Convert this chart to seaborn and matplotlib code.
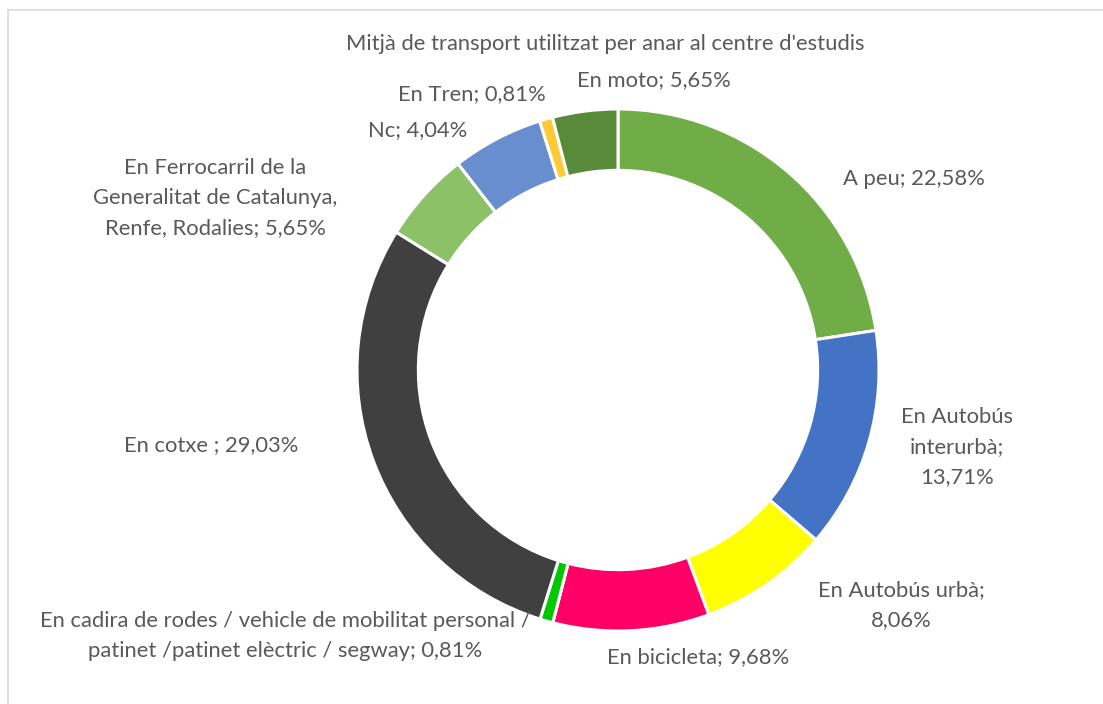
import matplotlib
matplotlib.use("Agg")
import matplotlib.pyplot as plt
import seaborn as sns
from matplotlib.patches import Rectangle

# Dades (ordre dels sectors, en sentit horari des de dalt)
categories = [
    "A peu",
    "En Autobús\ninterurbà;",
    "En Autobús urbà;",
    "En bicicleta",
    "En cadira de rodes / vehicle de mobilitat personal /\npatinet /patinet elèctric / segway",
    "En cotxe ",
    "En Ferrocarril de la\nGeneralitat de Catalunya,\nRenfe, Rodalies",
    "En moto",
    "En Tren",
    "Nc",
]
values = [22.58, 13.71, 8.06, 9.68, 0.81, 29.03, 5.65, 5.65, 0.81, 4.04]
colors = ["#70AD47", "#4472C4", "#FFFF00", "#FF0066", "#00C800",
          "#404040", "#8CC168", "#698ED0", "#FFC935", "#588A3A"]

# Posicions de les etiquetes (píxels, centre del text)
label_xy = [(914, 179), (957, 447), (901, 605), (698, 657), (285, 636),
            (211, 445), (215, 198), (654, 80), (472, 94), (418, 130)]

title = "Mitjà de transport utilitzat per anar al centre d'estudis"

sns.set_style("white")
plt.rcParams["font.family"] = ["Lato", "DejaVu Sans"]

W, H = 1103, 704
fig = plt.figure(figsize=(W / 100, H / 100), dpi=100)
fig.patch.set_facecolor("white")

# Vora del gràfic
fig.patches.append(Rectangle((8 / W, -0.1), 1.2, (H - 10) / H + 0.1,
                             transform=fig.transFigure, fill=False,
                             edgecolor="#D9D9D9", linewidth=1.2))

cx, cy, r = 618, 370, 261
lim = 1.2
ax = fig.add_axes([(cx - r * lim) / W, (H - cy - r * lim) / H,
                   2 * r * lim / W, 2 * r * lim / H])
ax.pie(values, colors=colors, startangle=90, counterclock=False, radius=1,
       wedgeprops=dict(width=0.235, edgecolor="white", linewidth=2.2))
ax.set_xlim(-lim, lim)
ax.set_ylim(-lim, lim)
ax.set_aspect("equal")
ax.axis("off")

txt_color = "#595959"
fs = 15.8
fig.text(605 / W, 1 - 44 / H, title, ha="center", va="center",
         fontsize=fs, color=txt_color)

for cat, val, (x, y) in zip(categories, values, label_xy):
    pct = f"{val:.2f}".replace(".", ",") + "%"
    if cat.endswith(";"):
        lab = f"{cat}\n{pct}"
    else:
        lab = f"{cat}; {pct}"
    fig.text(x / W, 1 - y / H, lab, ha="center", va="center",
             fontsize=fs, color=txt_color, linespacing=1.62)

fig.savefig("out.png", dpi=100)
